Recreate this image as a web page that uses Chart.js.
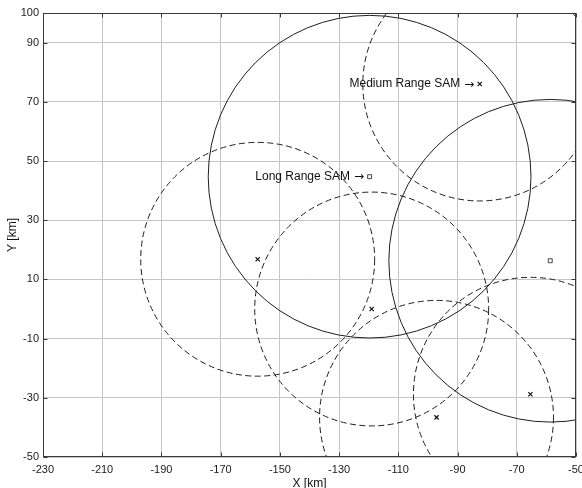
<!DOCTYPE html>
<html>
<head>
<meta charset="utf-8">
<script src="https://cdn.jsdelivr.net/npm/chart.js@4.4.1/dist/chart.umd.min.js"></script>
<style>
  html, body { margin: 0; padding: 0; background: #ffffff; }
  canvas { display: block; }
</style>
</head>
<body>
<canvas id="c" width="582" height="488"></canvas>
<script>
// Axis tick values (km)
const xTickValues = [-230, -210, -190, -170, -150, -130, -110, -90, -70, -50];
const yTickValues = [-50, -30, -10, 10, 30, 50, 70, 90, 100];

// Medium range SAM sites (km) and their engagement radius (km)
const mediumSiteX = [-157.5, -119.0, -97.1, -65.4, -82.5];
const mediumSiteY = [16.8, 0.0, -36.6, -28.8, 76.0];
const mediumRangeKm = [39.5, 39.5, 39.5, 39.5, 39.5];

// Long range SAM sites (km) and their engagement radius (km)
const longSiteX = [-119.7, -58.7];
const longSiteY = [44.7, 16.3];
const longRangeKm = [54.5, 54.5];

// Text annotations pointing at one site of each type
const annotationText = ['Medium Range SAM', 'Long Range SAM'];
const annotationGroup = ['medium', 'long'];
const annotationSite = [4, 0];
const ARROW = '\u2192';

const FONT = '"Liberation Sans", Arial, Helvetica, sans-serif';
const ARROW_FONT = '"DejaVu Sans", sans-serif';

const siteTable = {
  medium: { x: mediumSiteX, y: mediumSiteY, r: mediumRangeKm },
  long: { x: longSiteX, y: longSiteY, r: longRangeKm }
};

// Engagement rings: drawn through the chart scales and clipped to the plot area
const rangeRings = {
  id: 'rangeRings',
  beforeDatasetsDraw(chart) {
    const { ctx, chartArea: a, scales: { x, y } } = chart;
    ctx.save();
    ctx.beginPath();
    ctx.rect(a.left, a.top, a.right - a.left, a.bottom - a.top);
    ctx.clip();
    ctx.strokeStyle = '#1e1e1e';
    ctx.lineWidth = 1;
    const ring = (cx, cy, r, dash) => {
      const px = x.getPixelForValue(cx);
      const py = y.getPixelForValue(cy);
      const rx = Math.abs(x.getPixelForValue(cx + r) - px);
      const ry = Math.abs(y.getPixelForValue(cy + r) - py);
      ctx.setLineDash(dash);
      ctx.beginPath();
      ctx.ellipse(px, py, rx, ry, 0, 0, Math.PI * 2);
      ctx.stroke();
    };
    mediumSiteX.forEach((v, i) => ring(v, mediumSiteY[i], mediumRangeKm[i], [6, 3.5]));
    longSiteX.forEach((v, i) => ring(v, longSiteY[i], longRangeKm[i], []));
    ctx.restore();
  },
  afterDatasetsDraw(chart) {
    const { ctx, scales: { x, y } } = chart;
    ctx.save();
    ctx.fillStyle = '#111111';
    ctx.textAlign = 'right';
    ctx.textBaseline = 'middle';
    annotationText.forEach((t, i) => {
      const g = siteTable[annotationGroup[i]];
      const k = annotationSite[i];
      const px = x.getPixelForValue(g.x[k]) - 5.5;
      const py = y.getPixelForValue(g.y[k]);
      ctx.font = '12px ' + ARROW_FONT;
      const aw = ctx.measureText(ARROW).width;
      ctx.fillText(ARROW, px, py + 0.5);
      ctx.font = '12px ' + FONT;
      ctx.fillText(t, px - aw - 4, py);
    });
    ctx.restore();
  }
};

// Box frame with inward tick marks on all four sides
const boxFrame = {
  id: 'boxFrame',
  afterDraw(chart) {
    const { ctx, chartArea: a, scales: { x, y } } = chart;
    const L = Math.round(a.left) + 0.5, R = Math.round(a.right) - 0.5;
    const T = Math.round(a.top) + 0.5, B = Math.round(a.bottom) - 0.5;
    const len = 4;
    ctx.save();
    ctx.strokeStyle = '#3a3a3a';
    ctx.lineWidth = 1;
    ctx.setLineDash([]);
    ctx.beginPath();
    x.ticks.forEach(t => {
      const p = Math.round(x.getPixelForValue(t.value)) + 0.5;
      ctx.moveTo(p, B); ctx.lineTo(p, B - len);
      ctx.moveTo(p, T); ctx.lineTo(p, T + len);
    });
    y.ticks.forEach(t => {
      const p = Math.round(y.getPixelForValue(t.value)) + 0.5;
      ctx.moveTo(L, p); ctx.lineTo(L + len, p);
      ctx.moveTo(R, p); ctx.lineTo(R - len, p);
    });
    ctx.stroke();
    ctx.strokeRect(L, T, R - L, B - T);
    ctx.restore();
  }
};

new Chart(document.getElementById('c'), {
  type: 'scatter',
  data: {
    datasets: [
      {
        label: 'Medium Range SAM',
        data: mediumSiteX.map((v, i) => ({ x: v, y: mediumSiteY[i] })),
        pointStyle: 'crossRot',
        pointRadius: 3,
        borderColor: '#111111',
        borderWidth: 1.2,
        showLine: false
      },
      {
        label: 'Long Range SAM',
        data: longSiteX.map((v, i) => ({ x: v, y: longSiteY[i] })),
        pointStyle: 'rect',
        pointRadius: 2.8,
        borderColor: '#444444',
        backgroundColor: '#ffffff',
        borderWidth: 1,
        showLine: false
      }
    ]
  },
  options: {
    responsive: false,
    animation: false,
    devicePixelRatio: 1,
    layout: { padding: { left: 0, top: 13, right: 6, bottom: 0 } },
    plugins: { legend: { display: false }, tooltip: { enabled: false } },
    scales: {
      x: {
        type: 'linear',
        min: -230,
        max: -50,
        afterBuildTicks: s => { s.ticks = xTickValues.map(v => ({ value: v })); },
        afterFit: s => { s.height = 31; s.paddingLeft = 0; s.paddingRight = 0; },
        grid: { color: '#c6c6c6', lineWidth: 1, drawTicks: false },
        border: { display: false },
        ticks: {
          autoSkip: false,
          maxRotation: 0,
          padding: 6,
          color: '#1a1a1a',
          font: { family: FONT, size: 11 },
          callback: v => String(v)
        },
        title: {
          display: true,
          text: 'X [km]',
          color: '#111111',
          font: { family: FONT, size: 12 },
          padding: { top: 0, bottom: -3 }
        }
      },
      y: {
        type: 'linear',
        min: -50,
        max: 100,
        afterBuildTicks: s => { s.ticks = yTickValues.map(v => ({ value: v })); },
        afterFit: s => { s.width = 43; s.paddingTop = 0; s.paddingBottom = 0; },
        grid: { color: '#c6c6c6', lineWidth: 1, drawTicks: false },
        border: { display: false },
        ticks: {
          autoSkip: false,
          padding: 4,
          color: '#1a1a1a',
          font: { family: FONT, size: 11 },
          callback: v => String(v)
        },
        title: {
          display: true,
          text: 'Y [km]',
          color: '#111111',
          font: { family: FONT, size: 12 },
          padding: { top: 5, bottom: 0 }
        }
      }
    }
  },
  plugins: [rangeRings, boxFrame]
});
</script>
</body>
</html>
